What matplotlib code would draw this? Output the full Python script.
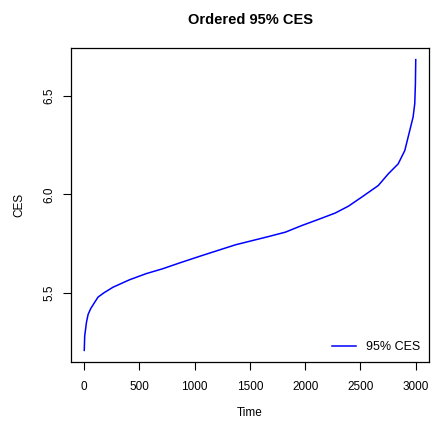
import numpy as np
import matplotlib
matplotlib.use("Agg")
import matplotlib.pyplot as plt

plt.rcParams['font.family'] = ['Liberation Sans', 'DejaVu Sans']

# ordered 95% CES values
time = [1, 5, 21, 36, 60, 96, 126, 180, 261, 411, 561, 711, 861, 1071, 1371,
        1671, 1821, 1971, 2121, 2271, 2391, 2511, 2661, 2751, 2841, 2901,
        2946, 2976, 2991, 2997, 3000]
ces = [5.207, 5.28, 5.35, 5.39, 5.42, 5.452, 5.478, 5.50, 5.528, 5.566, 5.597,
       5.622, 5.651, 5.69, 5.744, 5.786, 5.808, 5.842, 5.873, 5.905, 5.94,
       5.986, 6.045, 6.104, 6.155, 6.223, 6.325, 6.393, 6.461, 6.56, 6.685]
xticks = [0, 500, 1000, 1500, 2000, 2500, 3000]
yticks = [5.5, 6.0, 6.5]

fig = plt.figure(figsize=(4.32, 4.25), dpi=100)
ax = fig.add_axes([71/432, 1 - 362/425, (429 - 71)/432, (362 - 48)/425])

ax.plot(time, ces, color='blue', lw=1.1, label='95% CES')
ax.margins(x=0.04, y=0.04)

ax.set_xticks(xticks)
ax.set_xticklabels([str(t) for t in xticks])
ax.set_yticks(yticks)
ax.set_yticklabels([f"{t:.1f}" for t in yticks], rotation=90, va='center')
ax.tick_params(direction='out', length=6, width=0.8, labelsize=8.5)
ax.tick_params(axis='x', pad=8)
ax.tick_params(axis='y', pad=5)

for s in ax.spines.values():
    s.set_linewidth(0.9)

ax.set_xlabel("Time", fontsize=8.5, labelpad=10)
ax.set_ylabel("CES", fontsize=8.5, labelpad=13)
ax.set_title("Ordered 95% CES", fontsize=10.5, fontweight='bold', pad=17.5)

ax.legend(loc='lower right', frameon=False, fontsize=9, handlelength=1.9,
          handletextpad=0.8, borderaxespad=0.3)

fig.savefig("out.png", dpi=100)
